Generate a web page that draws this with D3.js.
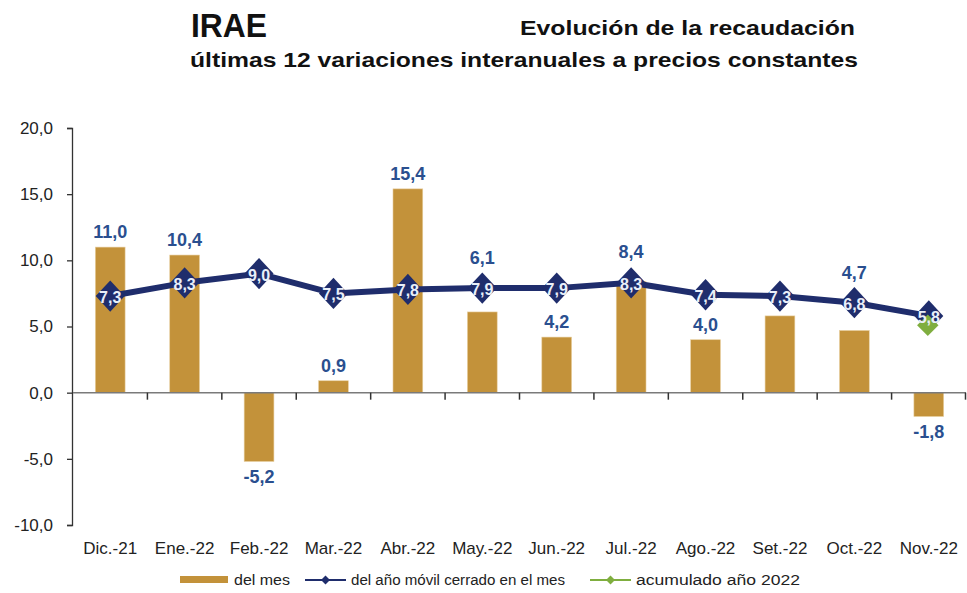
<!DOCTYPE html>
<html>
<head>
<meta charset="utf-8">
<script src="https://cdn.jsdelivr.net/npm/d3@7"></script>
<style>
  body { margin: 0; background: #fff; }
  svg { font-family: "Liberation Sans", Arial, sans-serif; }
  .bar-label { font-weight: bold; font-size: 18px; fill: #2a4f8f; }
  .line-label { font-weight: bold; font-size: 16px; fill: #e9eff9; }
  .tick text { fill: #222; }
</style>
</head>
<body>
<div id="plot"></div>
<script>
const months = ['Dic.-21', 'Ene.-22', 'Feb.-22', 'Mar.-22', 'Abr.-22', 'May.-22',
  'Jun.-22', 'Jul.-22', 'Ago.-22', 'Set.-22', 'Oct.-22', 'Nov.-22'];
// del mes
const monthly = [11.0, 10.4, -5.2, 0.9, 15.4, 6.1, 4.2, 8.4, 4.0, 5.8, 4.7, -1.8];
// shown labels (Set.-22 label is hidden behind the line marker in the original)
const monthlyShown = [true, true, true, true, true, true, true, true, true, false, true, true];
// del año móvil cerrado en el mes
const rolling = [7.3, 8.3, 9.0, 7.5, 7.8, 7.9, 7.9, 8.3, 7.4, 7.3, 6.8, 5.8];
// acumulado año 2022 (only last month)
const cumulativeMonth = ['Nov.-22'];
const cumulative = [5.1];
const yTicks = [-10, -5, 0, 5, 10, 15, 20];

const W = 967, H = 593;
const fmt = (v) => v.toFixed(1).replace('.', ',');

const svg = d3.select('#plot').append('svg')
  .attr('width', W)
  .attr('height', H);

const xScale = d3.scaleBand()
  .domain(months)
  .range([73, 966])
  .padding(0);

const yScale = d3.scaleLinear()
  .domain([-10, 20])
  .range([525, 128]);

const bw = xScale.bandwidth();
const cx = (m) => xScale(m) + bw / 2;
const y0 = yScale(0);

// titles
svg.append('text')
  .attr('x', 191).attr('y', 37)
  .attr('font-size', 33).attr('font-weight', 'bold').attr('fill', '#111')
  .attr('textLength', 76).attr('lengthAdjust', 'spacingAndGlyphs')
  .text('IRAE');

svg.append('text')
  .attr('x', 520).attr('y', 35)
  .attr('font-size', 21).attr('font-weight', 'bold').attr('fill', '#111')
  .attr('textLength', 335).attr('lengthAdjust', 'spacingAndGlyphs')
  .text('Evolución de la recaudación');

svg.append('text')
  .attr('x', 190).attr('y', 67)
  .attr('font-size', 21).attr('font-weight', 'bold').attr('fill', '#111')
  .attr('textLength', 668).attr('lengthAdjust', 'spacingAndGlyphs')
  .text('últimas 12 variaciones interanuales a precios constantes');

// y axis
const yAxis = svg.append('g')
  .attr('transform', `translate(${xScale.range()[0] - 1}, 0)`)
  .call(d3.axisLeft(yScale).tickValues(yTicks).tickSize(5).tickPadding(14).tickFormat(fmt));
yAxis.selectAll('text').attr('font-size', 17);
yAxis.selectAll('line, path').attr('stroke', '#333').attr('stroke-width', 1.3);

// bars
svg.append('g').selectAll('rect')
  .data(months)
  .join('rect')
  .attr('x', (m) => xScale(m) + bw * 0.3)
  .attr('width', bw * 0.4)
  .attr('y', (m, i) => Math.min(yScale(monthly[i]), y0))
  .attr('height', (m, i) => Math.abs(yScale(monthly[i]) - y0))
  .attr('fill', '#c3923a')
  .attr('stroke', '#e8cfa0')
  .attr('stroke-width', 0.6);

// x axis line at zero with boundary ticks
const xAxis = svg.append('g')
  .attr('transform', `translate(0, ${y0})`);
xAxis.append('line')
  .attr('x1', xScale.range()[0]).attr('x2', xScale.range()[1])
  .attr('stroke', '#7a7a7a').attr('stroke-width', 1.5);
xAxis.selectAll('.bt')
  .data(months.slice(1).concat(['end']))
  .join('line')
  .attr('class', 'bt')
  .attr('x1', (m) => m === 'end' ? xScale.range()[1] - 0.5 : xScale(m))
  .attr('x2', (m) => m === 'end' ? xScale.range()[1] - 0.5 : xScale(m))
  .attr('y1', 0).attr('y2', 7)
  .attr('stroke', '#333').attr('stroke-width', 1.5);

// category labels at bottom
const xLabels = svg.append('g')
  .attr('transform', 'translate(0, 539)')
  .call(d3.axisBottom(xScale).tickSize(0).tickPadding(3));
xLabels.select('.domain').remove();
xLabels.selectAll('text').attr('font-size', 17);

// rolling line
const line = d3.line()
  .x((d) => cx(d.m))
  .y((d) => yScale(d.v));
const rollData = months.map((m, i) => ({ m, v: rolling[i] }));

svg.append('path')
  .datum(rollData)
  .attr('d', line)
  .attr('fill', 'none')
  .attr('stroke', '#1f2d6c')
  .attr('stroke-width', 6)
  .attr('stroke-linejoin', 'round');

const diamond = d3.symbol(d3.symbolSquare, 420);
svg.append('g').selectAll('path')
  .data(rollData)
  .join('path')
  .attr('d', diamond)
  .attr('transform', (d) => `translate(${cx(d.m)}, ${yScale(d.v)}) scale(1, 1.08) rotate(45)`)
  .attr('fill', '#1f2d6c');

// cumulative marker
svg.append('g').selectAll('path')
  .data(cumulativeMonth)
  .join('path')
  .attr('d', d3.symbol(d3.symbolSquare, 230))
  .attr('transform', (m, i) => `translate(${cx(m) - 1}, ${yScale(cumulative[i])}) rotate(45)`)
  .attr('fill', '#7fae3f');

// rolling labels
svg.append('g').selectAll('text')
  .data(rollData)
  .join('text')
  .attr('class', 'line-label')
  .attr('x', (d) => cx(d.m))
  .attr('y', (d) => yScale(d.v) + 7)
  .attr('text-anchor', 'middle')
  .text((d) => fmt(d.v));

// bar labels
svg.append('g').selectAll('text')
  .data(months.filter((m, i) => monthlyShown[i]))
  .join('text')
  .attr('class', 'bar-label')
  .attr('x', (m) => cx(m))
  .attr('y', (m) => {
    const i = months.indexOf(m);
    const v = monthly[i];
    if (v < 0) return yScale(v) + 22;
    const top = yScale(v);
    const ly = yScale(rolling[i]);
    if (Math.abs((top - 12) - ly) < 22) return Math.min(top, ly) - 24;
    return top - 9;
  })
  .attr('text-anchor', 'middle')
  .text((m) => fmt(monthly[months.indexOf(m)]));

// legend
const leg = svg.append('g').attr('transform', 'translate(0, 580)');
leg.append('rect')
  .attr('x', 180).attr('y', -4).attr('width', 48).attr('height', 7)
  .attr('fill', '#c3923a');
leg.append('text')
  .attr('x', 234).attr('y', 5).attr('font-size', 14).attr('fill', '#222')
  .attr('textLength', 56).attr('lengthAdjust', 'spacingAndGlyphs')
  .text('del mes');

leg.append('line')
  .attr('x1', 305).attr('x2', 346).attr('y1', 0).attr('y2', 0)
  .attr('stroke', '#1f2d6c').attr('stroke-width', 2);
leg.append('path')
  .attr('d', d3.symbol(d3.symbolSquare, 40))
  .attr('transform', 'translate(325.5, 0) rotate(45)')
  .attr('fill', '#1f2d6c');
leg.append('text')
  .attr('x', 351).attr('y', 5).attr('font-size', 14).attr('fill', '#222')
  .attr('textLength', 214).attr('lengthAdjust', 'spacingAndGlyphs')
  .text('del año móvil cerrado en el mes');

leg.append('line')
  .attr('x1', 590).attr('x2', 631).attr('y1', 0).attr('y2', 0)
  .attr('stroke', '#7fae3f').attr('stroke-width', 2);
leg.append('path')
  .attr('d', d3.symbol(d3.symbolSquare, 40))
  .attr('transform', 'translate(610.5, 0) rotate(45)')
  .attr('fill', '#7fae3f');
leg.append('text')
  .attr('x', 636).attr('y', 5).attr('font-size', 14).attr('fill', '#222')
  .attr('textLength', 164).attr('lengthAdjust', 'spacingAndGlyphs')
  .text('acumulado año 2022');
</script>
</body>
</html>
